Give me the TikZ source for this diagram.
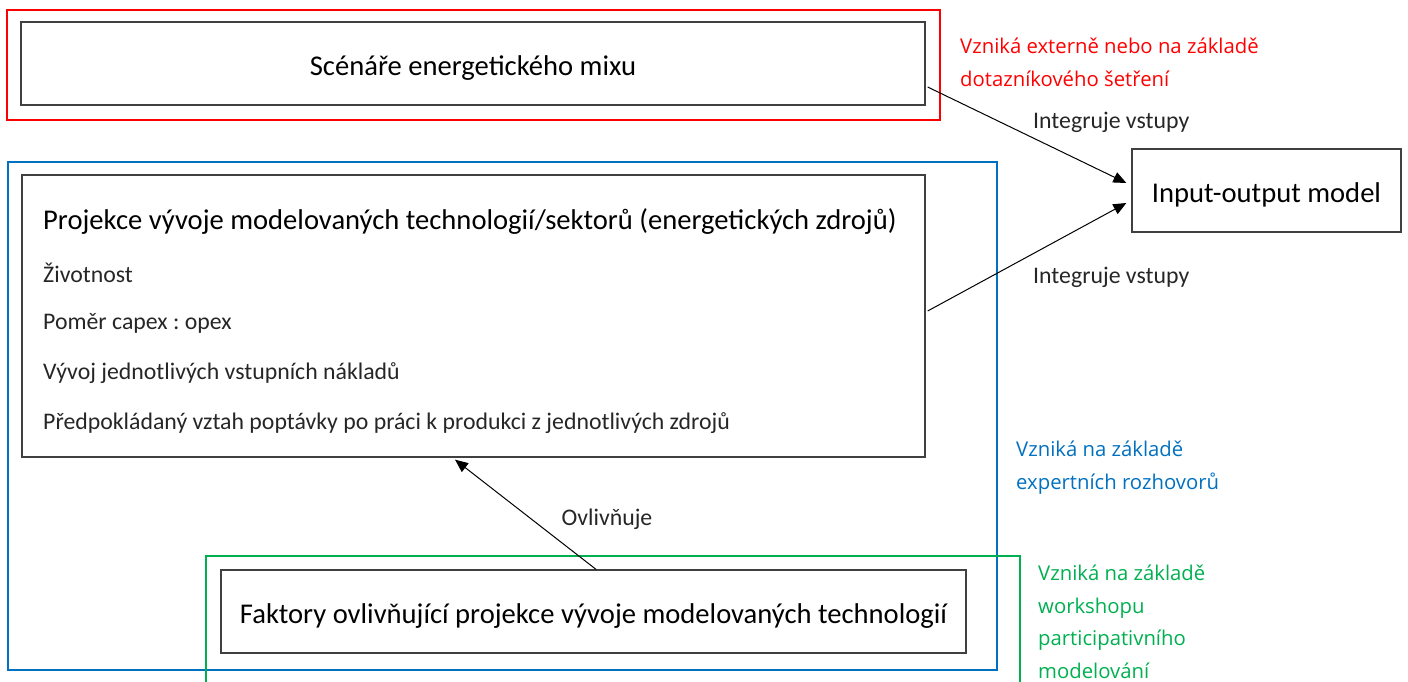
\documentclass[tikz,border=0pt]{standalone}
\usepackage{fontspec}
\setmainfont{Carlito}
\newfontfamily\notefont{Open Sans}
\usetikzlibrary{arrows.meta,positioning,calc}
\frenchspacing
\definecolor{mixred}{RGB}{255,0,0}
\definecolor{expblue}{RGB}{0,112,192}
\definecolor{wsgreen}{RGB}{0,176,80}
\tikzset{
  box/.style={draw=black!75, line width=1.3pt, inner sep=0pt},
  frame/.style={line width=2.6pt},
  flow/.style={-{Triangle[length=13pt,width=11pt]}, line width=1pt},
  big/.style={font=\fontsize{28.6}{32}\selectfont},
  boxtext/.style={big, text height=28pt, text depth=4pt},
  small/.style={font=\fontsize{23.8}{28}\selectfont, text=black!85, inner sep=0pt},
  note/.style={font=\notefont\fontsize{20.3}{32.5}\selectfont, align=left, anchor=base west, inner sep=0pt},
}
\begin{document}
\begin{tikzpicture}[x=1pt,y=-1pt]
  \useasboundingbox (0,0) rectangle (1408,681);
  \clip (0,0) rectangle (1408,681);

  % coloured frames round the groups
  \draw[frame, mixred] (7,10) rectangle (940,120);
  \draw[frame, expblue] (8,162) rectangle (997,670);
  \draw[frame, wsgreen] (206,556) rectangle (1020,700);

  % boxes
  \node[box, minimum width=904pt, minimum height=83pt, boxtext] (scen) at (473,63.5) {Scénáře energetického mixu};
  \node[box, minimum width=269pt, minimum height=83pt, boxtext] (io) at (1266.5,190.5) {Input-output model};
  \node[box, minimum width=903pt, minimum height=282pt] (proj) at (473.5,316) {};
  \node[box, minimum width=745pt, minimum height=83pt, boxtext] (fakt) at (593.5,611.5) {Faktory ovlivňující projekce vývoje modelovaných technologií};

  % contents of the projection box
  \node[big, inner sep=0pt, anchor=west] (projT) at (43,221) {Projekce vývoje modelovaných technologií/sektorů (energetických zdrojů)};
  \node[small, anchor=west] (it1) at (43,273) {Životnost};
  \node[small, anchor=west] (it2) at (43,323) {Poměr capex : opex};
  \node[small, anchor=west] (it3) at (43,373) {Vývoj jednotlivých vstupních nákladů};
  \node[small, anchor=west] (it4) at (43,423) {Předpokládaný vztah poptávky po práci k produkci z jednotlivých zdrojů};

  % connectors
  \draw[flow] ($(scen.east)+(2,23.5)$) -- ($(io.west)+(-5,-7.5)$);
  \draw[flow] ($(proj.east)+(2,-5)$) -- ($(io.west)+(-5,12.5)$);
  \draw[flow] ($(fakt.north)+(2.5,0)$) -- ($(proj.south)+(-18.5,2)$);

  \node[small, anchor=west] (lab1) at (1033,122) {Integruje vstupy};
  \node[small, anchor=west] (lab2) at (1033,277) {Integruje vstupy};
  \node[small] (lab3) at (607,519) {Ovlivňuje};

  % where the inputs come from
  \node[note, text=mixred] (srcA) at (960,86) {Vzniká externě nebo na základě\\dotazníkového šetření};
  \node[note, text=expblue] (srcB) at (1016,489) {Vzniká na základě\\expertních rozhovorů};
  \node[note, text=wsgreen] (srcC) at (1038,678) {Vzniká na základě\\workshopu\\participativního\\modelování};
\end{tikzpicture}
\end{document}
